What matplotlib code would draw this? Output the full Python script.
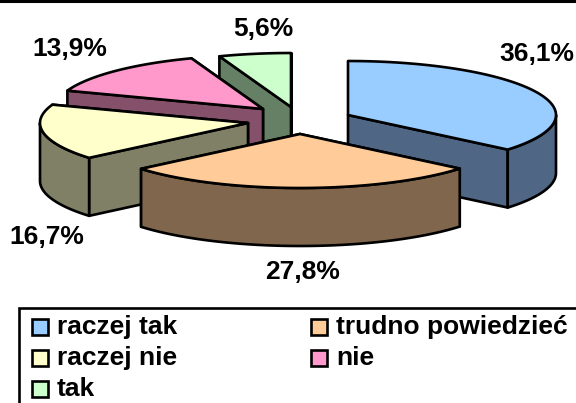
import numpy as np
import matplotlib
matplotlib.use("Agg")
import matplotlib.pyplot as plt
from matplotlib.patches import Polygon, Rectangle

kategorie = ["raczej tak", "trudno powiedzieć", "raczej nie", "nie", "tak"]
wartosci = [36.1, 27.8, 16.7, 13.9, 5.6]
etykiety = ["36,1%", "27,8%", "16,7%", "13,9%", "5,6%"]

kolory = ["#99CCFF", "#FFCC99", "#FFFFCC", "#FF99CC", "#CCFFCC"]
boki = ["#4F6784", "#80664D", "#808066", "#855069", "#668066"]

# wierzcholki wycinkow po rozsunieciu, w pikselach obrazka
wierzcholki = [(348, 115), (300, 134), (248, 123), (263, 109), (291, 107)]
pozycje_etykiet = [(537, 54), (303, 272), (47, 237), (70, 49), (263, 29)]
kolejnosc = [4, 3, 2, 0, 1]

A = 208
B = 54
GLEBOKOSC = 58
LW = 1.9
FONT = "Liberation Sans"
ROZMIAR = 19


def punkt(srodek, kat):
    r = np.radians(kat)
    return srodek[0] + A * np.sin(r), srodek[1] - B * np.cos(r)


def luk(srodek, k1, k2):
    katy = np.linspace(k1, k2, 80)
    x, y = punkt(srodek, katy)
    return np.column_stack([x, y])


def rysuj_wycinek(ax, srodek, k1, k2, kolor, bok):
    # sciany boczne: najpierw tylna, potem przednia
    sciany = sorted([k1, k2], key=lambda k: -np.cos(np.radians(k)))
    for k in sciany:
        p = punkt(srodek, k)
        pts = [srodek, p, (p[0], p[1] + GLEBOKOSC), (srodek[0], srodek[1] + GLEBOKOSC)]
        ax.add_patch(Polygon(pts, closed=True, fc=bok, ec="black", lw=LW, joinstyle="round"))
    # zewnetrzna sciana, tylko dolna czesc elipsy
    od = max(k1, 90)
    do = min(k2, 270)
    if od < do:
        gora = luk(srodek, od, do)
        dol = gora[::-1] + [0, GLEBOKOSC]
        ax.add_patch(Polygon(np.vstack([gora, dol]), closed=True, fc=bok, ec="black", lw=LW, joinstyle="round"))
    pts = np.vstack([[srodek], luk(srodek, k1, k2)])
    ax.add_patch(Polygon(pts, closed=True, fc=kolor, ec="black", lw=LW, joinstyle="round"))


fig = plt.figure(figsize=(5.76, 4.03), dpi=100)
ax = fig.add_axes([0, 0, 1, 1])
ax.set_xlim(0, 576)
ax.set_ylim(403, 0)
ax.axis("off")

ax.plot([0, 576], [1, 1], color="black", lw=2.2)

granice = np.cumsum([0] + wartosci) / sum(wartosci) * 360
for i in kolejnosc:
    rysuj_wycinek(ax, wierzcholki[i], granice[i], granice[i + 1], kolory[i], boki[i])

for tekst, (x, y) in zip(etykiety, pozycje_etykiet):
    ax.text(x, y, tekst, ha="center", va="center", fontsize=ROZMIAR, fontweight="bold", family=FONT)

# legenda
ax.add_patch(Rectangle((19, 308), 600, 120, fc="white", ec="black", lw=1.9))
kol_x = [32, 311]
wiersz_y = [327, 358, 389]
for i, nazwa in enumerate(kategorie):
    x = kol_x[i % 2]
    y = wiersz_y[i // 2]
    ax.add_patch(Rectangle((x, y - 8), 16, 16, fc=kolory[i], ec="black", lw=1.9))
    ax.text(x + 25, y, nazwa, ha="left", va="center", fontsize=ROZMIAR, fontweight="bold", family=FONT)

fig.savefig("out.png", dpi=100)
